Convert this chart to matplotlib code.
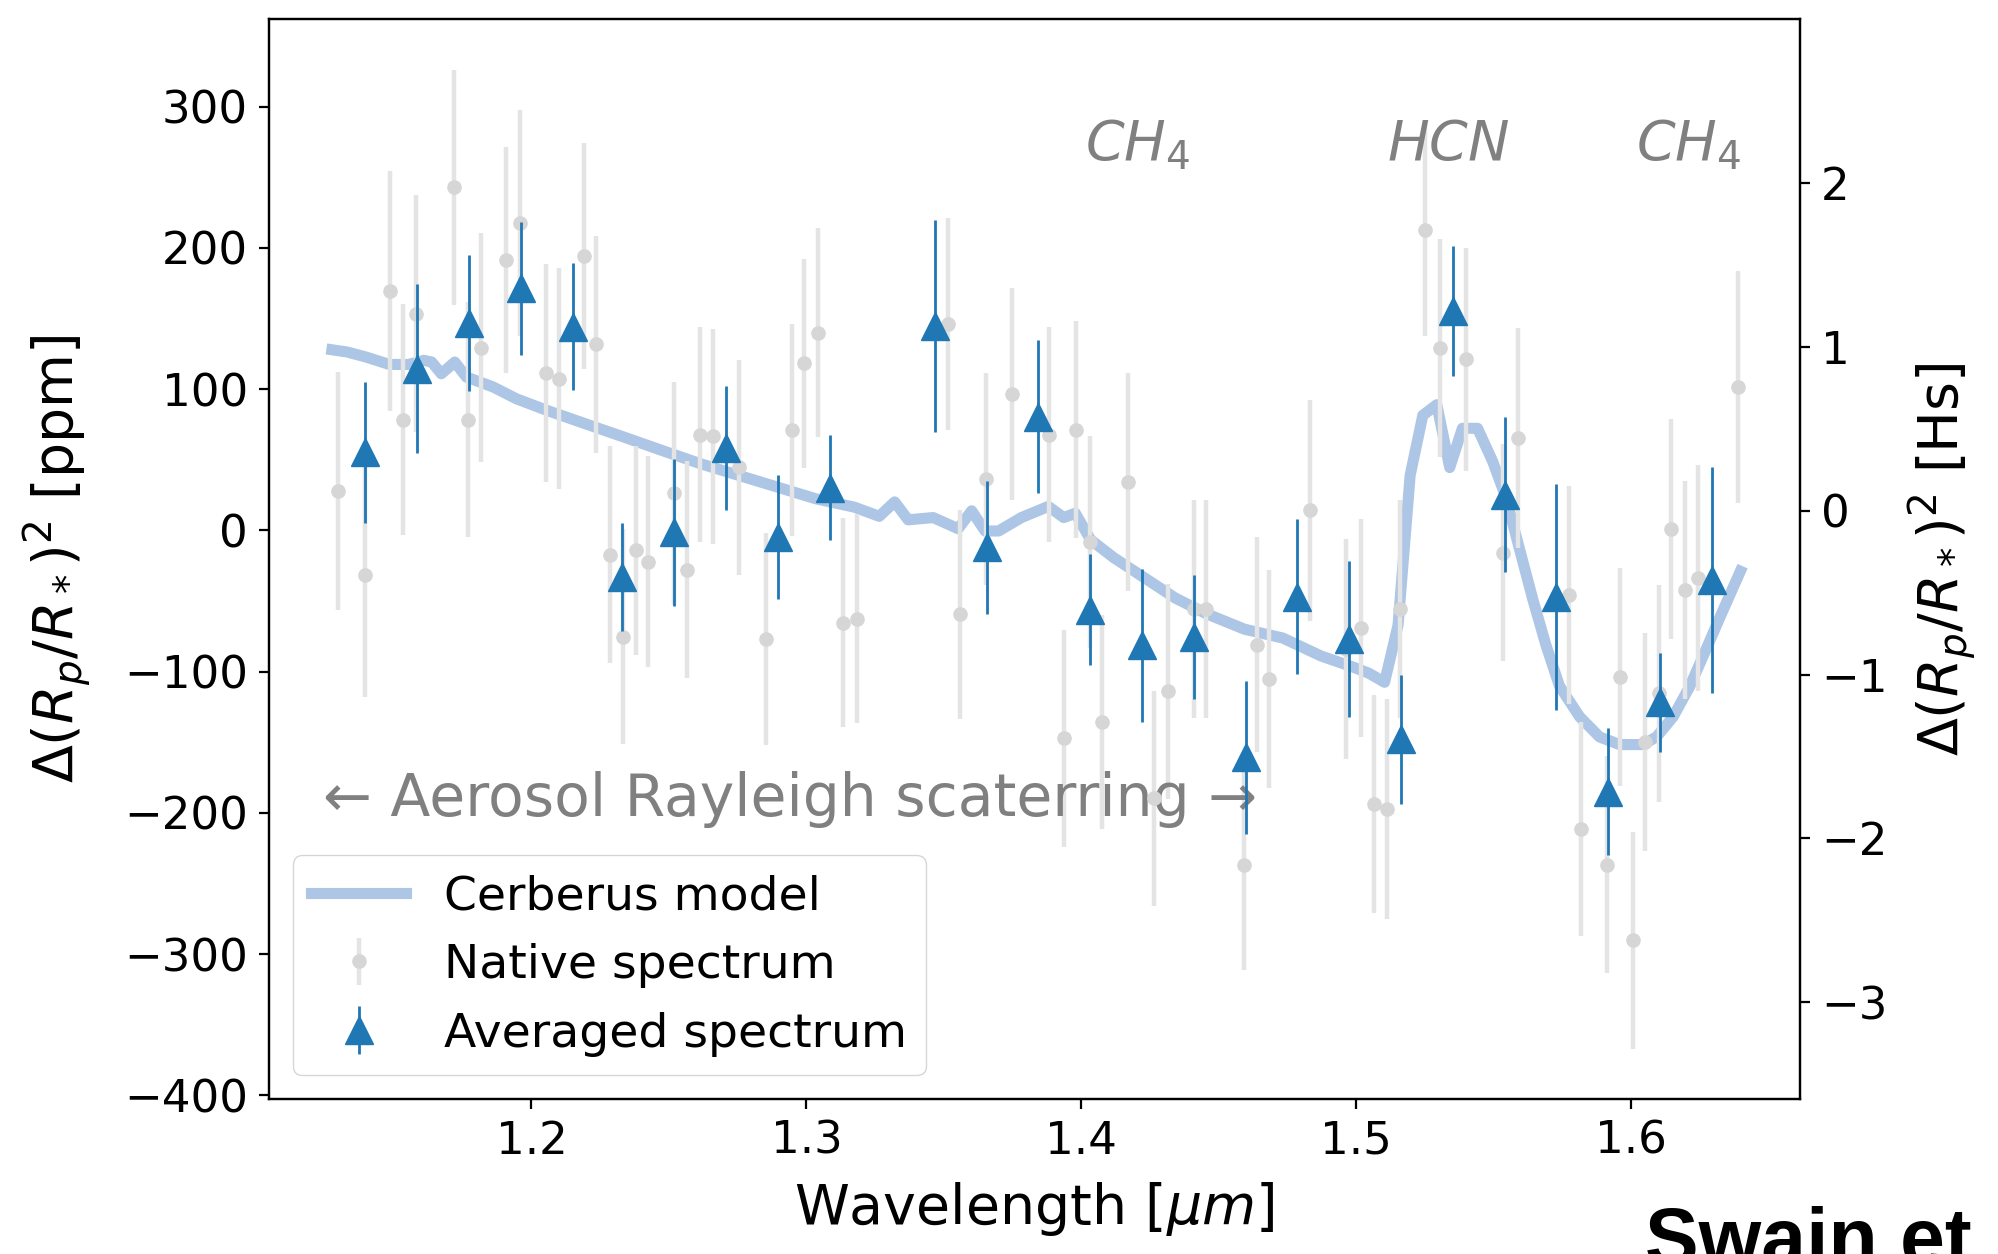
import matplotlib
matplotlib.use("Agg")
import matplotlib.pyplot as plt

# model curve (Cerberus)
model_wl = [1.1274, 1.1330, 1.1399, 1.1483, 1.1553, 1.1609, 1.1637, 1.1672, 1.1721, 1.1763,
            1.1861, 1.1945, 1.2056, 1.2196, 1.2336, 1.2475, 1.2615, 1.2755, 1.2894, 1.3034,
            1.3174, 1.3265, 1.3321, 1.3370, 1.3461, 1.3552, 1.3601, 1.3650, 1.3699, 1.3782,
            1.3880, 1.3936, 1.3978, 1.4034, 1.4118, 1.4230, 1.4341, 1.4453, 1.4593, 1.4733,
            1.4872, 1.4985, 1.5046, 1.5103, 1.5152, 1.5196, 1.5242, 1.5293, 1.5340, 1.5386,
            1.5441, 1.5496, 1.5544, 1.5593, 1.5642, 1.5690, 1.5739, 1.5812, 1.5885, 1.5958,
            1.6043, 1.6092, 1.6153, 1.6214, 1.6275, 1.6323, 1.6397]
model_ppm = [127.9, 126.3, 122.7, 117.5, 117.5, 120.4, 119.2, 110.9, 119.2, 108.6,
             101.5, 93.2, 85.0, 75.5, 66.1, 56.6, 47.2, 38.9, 30.7, 22.4,
             16.5, 10.0, 20.2, 7.5, 9.1, 1.2, 13.9, -0.4, -0.4, 9.1,
             17.0, 9.1, 12.2, -6.7, -19.3, -33.6, -47.8, -58.8, -69.9, -76.2,
             -88.9, -96.5, -101.1, -107.5, -67.0, 39.0, 81.5, 89.0, 44.5, 72.3,
             72.3, 48.9, 23.6, -12.6, -48.7, -81.2, -110.1, -131.8, -146.2, -151.6,
             -151.6, -146.2, -131.8, -110.1, -83.0, -61.4, -28.9]

# native spectrum
native_wl = [1.1298, 1.1394, 1.1487, 1.1532, 1.1581, 1.1717, 1.1770, 1.1815, 1.1909, 1.1960,
             1.2054, 1.2101, 1.2192, 1.2236, 1.2284, 1.2332, 1.2381, 1.2425, 1.2519, 1.2567,
             1.2613, 1.2661, 1.2756, 1.2854, 1.2947, 1.2992, 1.3041, 1.3133, 1.3183, 1.3514,
             1.3558, 1.3652, 1.3747, 1.3882, 1.3938, 1.3980, 1.4030, 1.4074, 1.4168, 1.4264,
             1.4317, 1.4410, 1.4455, 1.4593, 1.4640, 1.4684, 1.4830, 1.4964, 1.5017, 1.5065,
             1.5113, 1.5159, 1.5251, 1.5304, 1.5398, 1.5534, 1.5587, 1.5773, 1.5817, 1.5911,
             1.5959, 1.6007, 1.6051, 1.6100, 1.6145, 1.6197, 1.6242, 1.6387]
native_ppm = [27.8, -31.6, 169.4, 78.5, 153.4, 242.8, 78.5, 129.3, 191.6, 217.7,
              111.4, 107.5, 194.5, 131.7, -17.1, -75.1, -14.2, -22.0, 26.3, -27.8,
              67.9, 66.5, 44.7, -77.1, 71.3, 118.2, 139.9, -65.5, -62.6, 146.2,
              -59.2, 36.5, 96.4, 67.9, -147.2, 71.3, -8.5, -135.6, 34.1, -189.7,
              -113.8, -55.8, -55.8, -236.5, -80.9, -105.1, 14.2, -83.9, -68.9, -193.6,
              -197.0, -55.8, 212.9, 129.3, 121.1, -15.7, 65.5, -45.7, -211.4, -236.5,
              -103.7, -290.2, -149.6, -115.3, 1.2, -42.3, -33.6, 101.7]
native_err = [84, 86, 85, 82, 84, 83, 83, 81, 80, 80,
              77, 78, 80, 77, 77, 76, 74, 75, 79, 77,
              76, 76, 76, 75, 75, 74, 74, 74, 74, 75,
              74, 75, 75, 76, 77, 77, 75, 76, 77, 76,
              76, 77, 77, 75, 76, 77, 78, 78, 77, 77,
              78, 77, 75, 77, 79, 77, 78, 77, 76, 77,
              77, 77, 77, 77, 78, 77, 80, 82]

# averaged spectrum
avg_wl = [1.1395, 1.1584, 1.1773, 1.1961, 1.2151, 1.2331, 1.2520, 1.2709, 1.2897, 1.3086,
          1.3466, 1.3656, 1.3844, 1.4033, 1.4221, 1.4409, 1.4598, 1.4786, 1.4975, 1.5163,
          1.5351, 1.5540, 1.5728, 1.5917, 1.6105, 1.6293]
avg_ppm = [55.4, 114.5, 147.0, 171.5, 144.2, -33.0, -1.2, 58.5, -4.7, 30.2,
           145.0, -12.0, 80.5, -56.0, -81.3, -75.3, -160.6, -46.9, -76.9, -148.0,
           155.6, 25.3, -46.9, -184.9, -121.6, -35.0]
avg_err = [50, 60, 48, 47, 45, 38, 52, 44, 44, 37,
           75, 47, 54, 39, 54, 44, 54, 55, 55, 46,
           46, 55, 80, 45, 35, 80]

fig = plt.figure(figsize=(19.98, 12.54), dpi=100)
ax = fig.add_axes([0.1346, 0.1236, 0.7663, 0.8612])

ax.plot(model_wl, model_ppm, color='#adc6e5', lw=8, label='Cerberus model', zorder=2)
ax.errorbar(native_wl, native_ppm, yerr=native_err, fmt='o', ms=9.5,
            color='#d6d6d6', ecolor='#e4e4e4', elinewidth=3.2, label='Native spectrum', zorder=3)
ax.errorbar(avg_wl, avg_ppm, yerr=avg_err, fmt='^', ms=20, color='#1f77b4',
            elinewidth=2, label='Averaged spectrum', zorder=4)

ax.set_xlim(1.1045, 1.6614)
ax.set_ylim(-402.5, 362)
ax.set_yticks([-400, -300, -200, -100, 0, 100, 200, 300])
ax.set_xticks([1.2, 1.3, 1.4, 1.5, 1.6])

# labels on the plot
ax.text(1.1242, -202, '\u2190 Aerosol Rayleigh scaterring \u2192', fontsize=42,
        color='gray', ha='left', va='baseline')
ax.text(1.4012, 262, '$CH_4$', fontsize=40, color='gray', ha='left', va='baseline')
ax.text(1.5112, 262, '$HCN$', fontsize=40, color='gray', ha='left', va='baseline')
ax.text(1.6017, 262, '$CH_4$', fontsize=40, color='gray', ha='left', va='baseline')

ax.set_xlabel(r'Wavelength [$\mu m$]', fontsize=40, labelpad=12)
ax.set_ylabel(r'$\Delta(R_p/R_*)^2$ [ppm]', fontsize=40, labelpad=22)
ax.tick_params(labelsize=32.5, length=7, width=1.6, pad=8)
for s in ax.spines.values():
    s.set_linewidth(1.6)

ax.legend(loc='lower left', fontsize=34)

ax2 = ax.twinx()
ax2.set_ylim(-3.59, 3.0)
ax2.set_yticks([-3, -2, -1, 0, 1, 2])
ax2.set_ylabel(r'$\Delta(R_p/R_*)^2$ [Hs]', fontsize=40, labelpad=14)
ax2.tick_params(labelsize=32.5, length=7, width=1.6, pad=8)
for s in ax2.spines.values():
    s.set_linewidth(1.6)

# cropped caption at the bottom right, cut by the edge as in the source
fig.text(0.8233, -0.009, 'Swain et', fontsize=58, fontweight='bold',
         family='Liberation Sans', va='baseline', ha='left')

fig.savefig('out.png', dpi=100)
